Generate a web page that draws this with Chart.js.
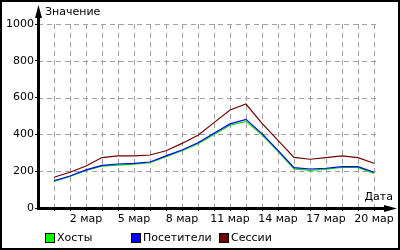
<!DOCTYPE html>
<html>
<head>
<meta charset="utf-8">
<script src="https://cdn.jsdelivr.net/npm/chart.js@4"></script>
<style>
  html, body { margin: 0; padding: 0; background: #fff; }
  #wrap { width: 400px; height: 250px; position: relative; }
</style>
</head>
<body>
<div id="wrap"><canvas id="chart" width="400" height="250"></canvas></div>
<script>
// данные: 29 фев .. 20 мар
const dates = ['29 фев', '1 мар', '2 мар', '3 мар', '4 мар', '5 мар', '6 мар', '7 мар', '8 мар', '9 мар',
  '10 мар', '11 мар', '12 мар', '13 мар', '14 мар', '15 мар', '16 мар', '17 мар', '18 мар', '19 мар', '20 мар'];
const hosts    = [145, 171, 204, 228, 233, 238, 246, 279, 311, 350, 400, 450, 471, 398, 308, 213, 205, 211, 220, 220, 188];
const visitors = [148, 174, 207, 232, 239, 243, 250, 283, 315, 355, 406, 457, 482, 404, 313, 219, 212, 216, 225, 225, 194];
const sessions = [167, 194, 228, 274, 283, 283, 288, 311, 351, 395, 464, 533, 565, 460, 368, 275, 265, 274, 283, 274, 243];
const yTicks = [0, 200, 400, 600, 800, 1000];

const FONT = 'DejaVu Sans';
const toXY = arr => arr.map((v, i) => ({ x: i, y: v }));

// пунктирная сетка по тикам шкал
const dashedGrid = {
  id: 'dashedGrid',
  beforeDatasetsDraw(chart) {
    const ctx = chart.ctx;
    const a = chart.chartArea;
    const sx = chart.scales.x, sy = chart.scales.y;
    ctx.save();
    ctx.strokeStyle = '#a0a0a0';
    ctx.lineWidth = 1;
    ctx.setLineDash([5, 4]);
    sy.ticks.forEach(t => {
      if (t.value === 0) return;
      const y = Math.round(sy.getPixelForValue(t.value)) + 0.5;
      ctx.beginPath();
      ctx.moveTo(a.left, y);
      ctx.lineTo(a.right, y);
      ctx.stroke();
    });
    sx.ticks.forEach(t => {
      const x = Math.round(sx.getPixelForValue(t.value)) + 0.5;
      ctx.beginPath();
      ctx.moveTo(x, a.top);
      ctx.lineTo(x, a.bottom);
      ctx.stroke();
    });
    ctx.restore();
  }
};

// стрелки осей, подписи осей, легенда, рамка
const decor = {
  id: 'decor',
  afterDraw(chart) {
    const ctx = chart.ctx;
    const a = chart.chartArea;
    ctx.save();
    ctx.fillStyle = '#000';
    ctx.strokeStyle = '#000';
    // ось Y
    ctx.fillRect(a.left - 1, 14, 3, a.bottom - 14 + 2);
    ctx.beginPath();
    ctx.moveTo(a.left + 0.5, 5);
    ctx.lineTo(a.left - 3, 18);
    ctx.lineTo(a.left + 4, 18);
    ctx.closePath();
    ctx.fill();
    // ось X
    ctx.fillRect(a.left - 1, a.bottom - 1, 386 - a.left, 3);
    ctx.beginPath();
    ctx.moveTo(397, a.bottom + 0.5);
    ctx.lineTo(384, a.bottom - 3);
    ctx.lineTo(384, a.bottom + 4);
    ctx.closePath();
    ctx.fill();
    // подписи осей
    ctx.font = '11px "' + FONT + '"';
    ctx.textBaseline = 'middle';
    ctx.textAlign = 'left';
    ctx.fillText('Значение', 45, 12);
    ctx.textAlign = 'right';
    ctx.fillText('Дата', 393, 197);
    // легенда
    const xs = [45, 131, 219];
    ctx.textAlign = 'left';
    chart.data.datasets.forEach((ds, i) => {
      ctx.fillStyle = ds.legendColor;
      ctx.fillRect(xs[i], 233, 9, 9);
      ctx.lineWidth = 1;
      ctx.strokeStyle = '#000';
      ctx.strokeRect(xs[i] + 0.5, 233.5, 9, 9);
      ctx.fillStyle = '#000';
      ctx.fillText(ds.label, xs[i] + 12, 238);
    });
    // рамка
    ctx.lineWidth = 2;
    ctx.strokeRect(1, 1, 398, 248);
    ctx.restore();
  }
};

const gridOpts = {
  drawOnChartArea: false,
  drawTicks: true,
  tickLength: 3,
  tickColor: '#000',
  lineWidth: 1
};

new Chart(document.getElementById('chart'), {
  type: 'line',
  data: {
    datasets: [
      { label: 'Хосты', data: toXY(hosts), borderColor: '#00dd00', legendColor: '#00ff00', order: 3 },
      { label: 'Посетители', data: toXY(visitors), borderColor: '#0000ff', legendColor: '#0000ff', order: 2 },
      { label: 'Сессии', data: toXY(sessions), borderColor: '#700000', legendColor: '#700000', order: 1 }
    ]
  },
  options: {
    responsive: false,
    animation: false,
    layout: { padding: { left: 0, right: 24, top: 24, bottom: 0 } },
    elements: {
      line: { borderWidth: 1.2, tension: 0 },
      point: { radius: 0 }
    },
    plugins: { legend: { display: false }, tooltip: { enabled: false } },
    scales: {
      x: {
        type: 'linear',
        min: -1,
        max: 20.125,
        afterBuildTicks: s => { s.ticks = dates.map((d, i) => ({ value: i })); },
        afterFit: s => { s.height = 42; },
        border: { display: false },
        grid: gridOpts,
        ticks: {
          autoSkip: false,
          maxRotation: 0,
          padding: 2,
          color: '#000',
          font: { family: FONT, size: 11 },
          callback: v => ((v - 2) % 3 === 0 ? dates[v] : '')
        }
      },
      y: {
        min: 0,
        max: 1000,
        afterBuildTicks: s => { s.ticks = yTicks.map(v => ({ value: v })); },
        afterFit: s => { s.width = 38; },
        border: { display: false },
        grid: gridOpts,
        ticks: {
          padding: 1,
          color: '#000',
          font: { family: FONT, size: 11 },
          callback: v => String(v)
        }
      }
    }
  },
  plugins: [dashedGrid, decor]
});
</script>
</body>
</html>
